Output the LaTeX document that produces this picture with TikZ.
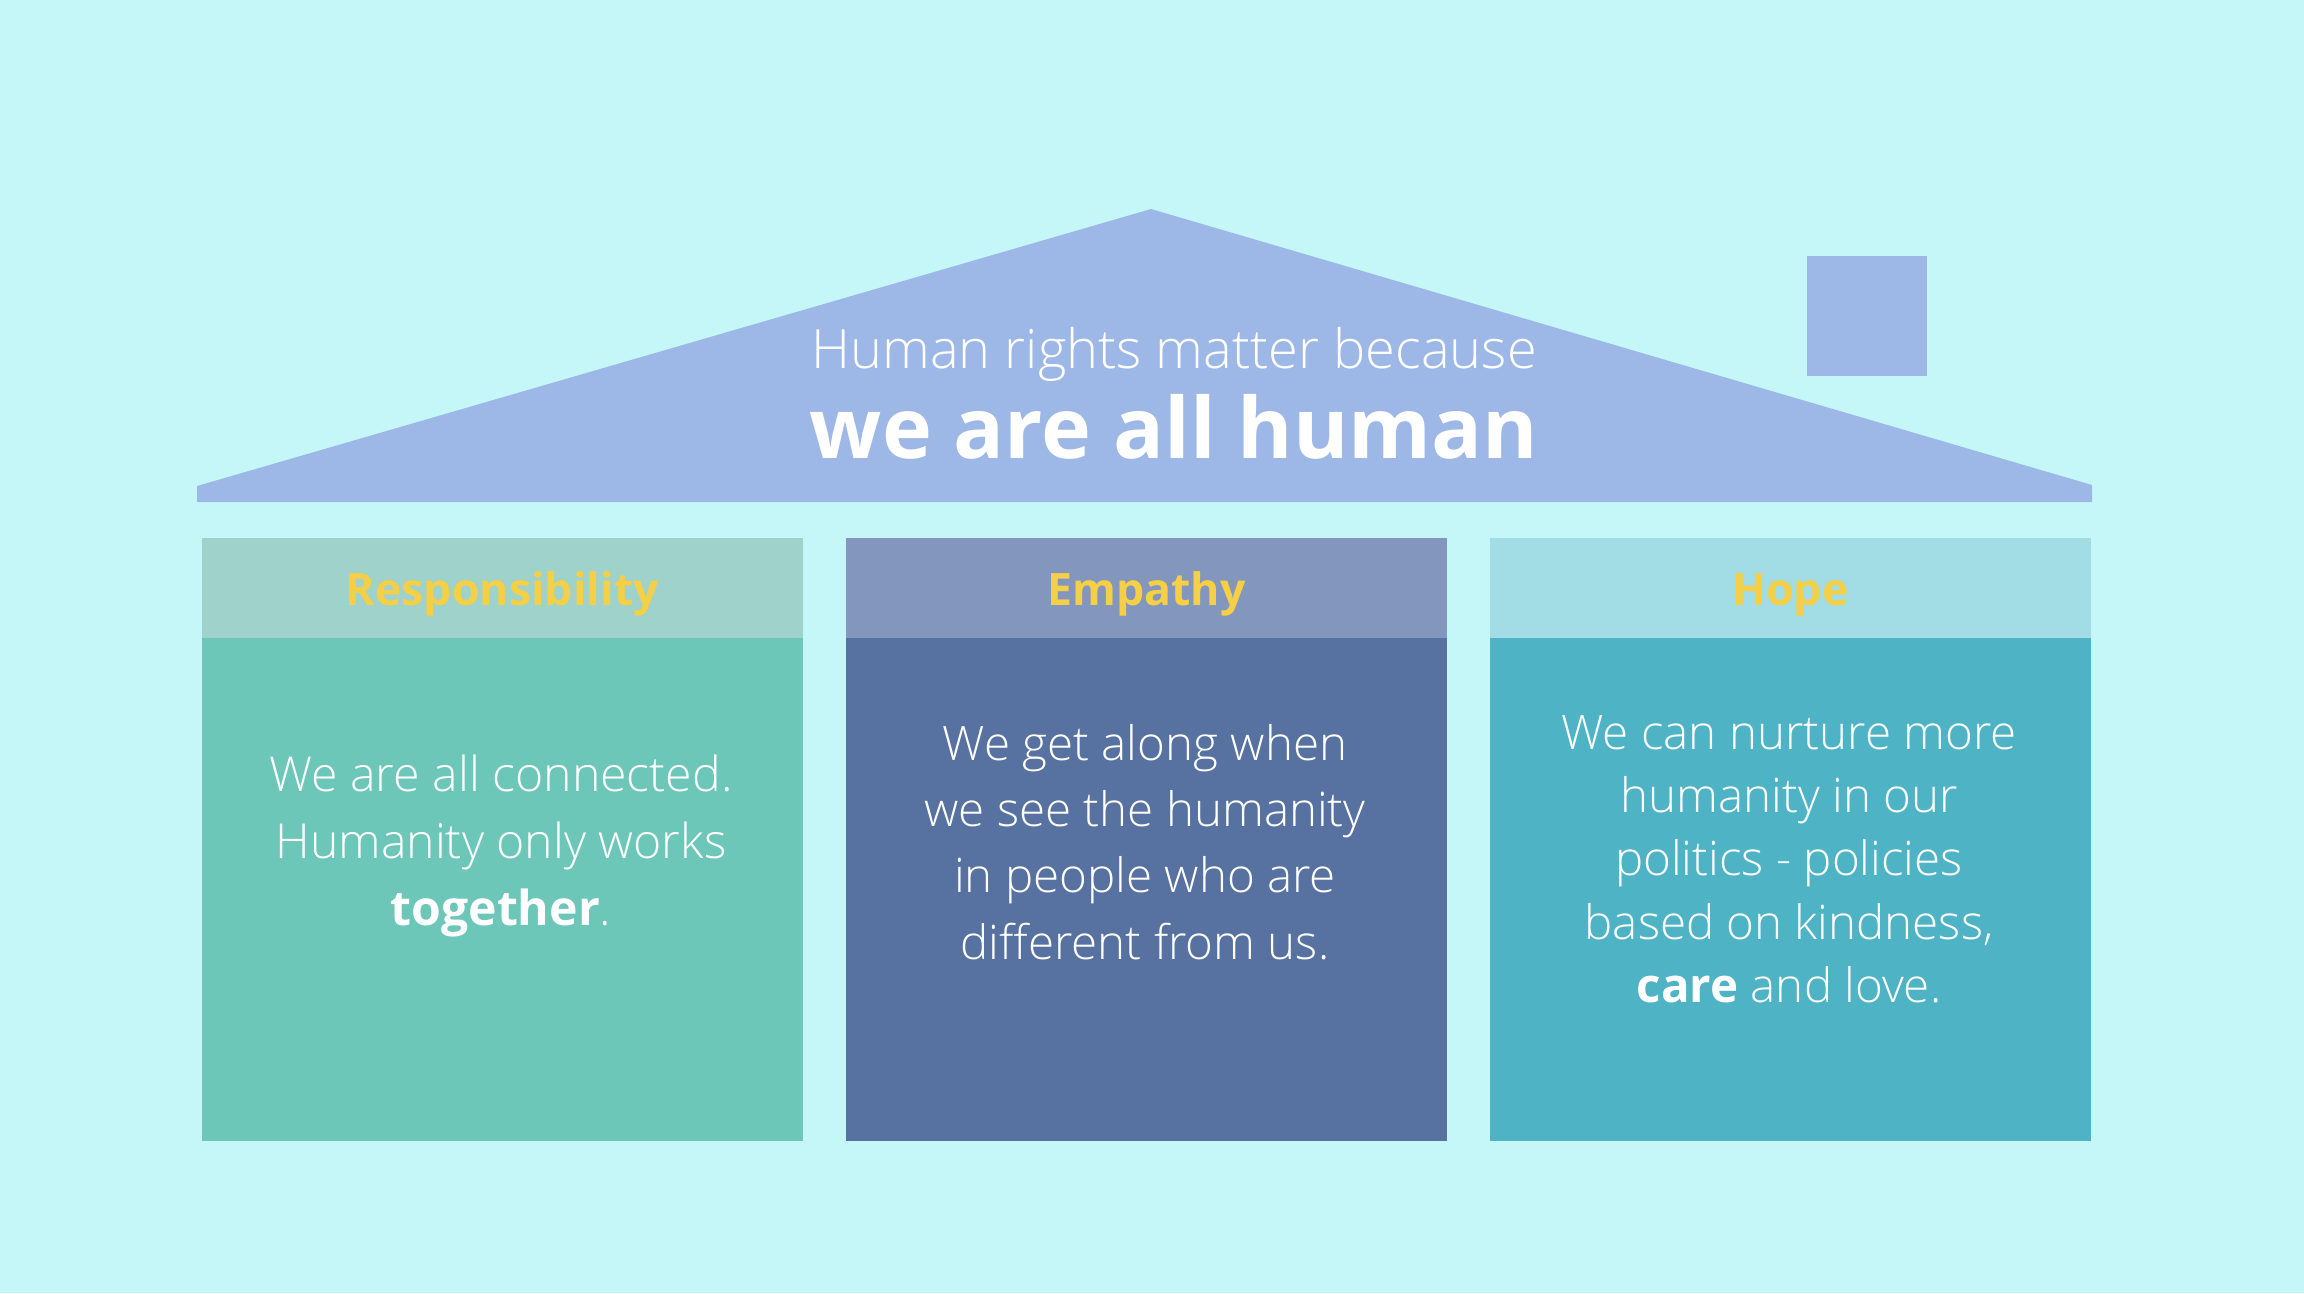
\documentclass[tikz,border=0pt]{standalone}
\usepackage{fontspec}
\setmainfont{Open Sans}
\newfontfamily\lightfont{Open Sans Light}
\usepackage{xcolor}
\usetikzlibrary{positioning}
\definecolor{skybg}{HTML}{C5F7F9}
\definecolor{roofblue}{HTML}{9DB8E6}
\definecolor{resphead}{HTML}{9ED2CB}
\definecolor{respbody}{HTML}{6CC7B9}
\definecolor{emphead}{HTML}{8396BD}
\definecolor{empbody}{HTML}{5771A0}
\definecolor{hopehead}{HTML}{A2DCE4}
\definecolor{hopebody}{HTML}{4FB3C6}
\definecolor{gold}{HTML}{F5CF45}

\begin{document}
\begin{tikzpicture}[x=0.01cm,y=-0.01cm,
pillar/.style={inner sep=0pt,minimum width=6.01cm,minimum height=5.03cm,anchor=north west},
headband/.style={inner sep=0pt,minimum width=6.01cm,minimum height=1cm,text height=12pt,text depth=2.3pt,text=gold,font=\bfseries\fontsize{12.7}{15}\selectfont},
txt/.style={text=white,align=center,font=\lightfont\fontsize{13.5}{18.8}\selectfont},
node distance=-0.02cm]
\useasboundingbox[fill=skybg] (0,0) rectangle (2304,1293);
% roof and chimney
\fill[roofblue] (197,502) -- (197,486) -- (1151,209) -- (2092,485) -- (2092,502) -- cycle;
\fill[roofblue] (1807,256) rectangle (1927,376);
\node[text=white,font=\lightfont\fontsize{15.4}{19}\selectfont] (why) at (1174,354) {Human rights matter because};
\node[text=white,font=\bfseries\fontsize{24}{28}\selectfont] (all) at (1174,427) {we are all human};
% pillars
\node[pillar,fill=respbody] (b1) at (201,637) {};
\node[pillar,fill=empbody] (b2) at (845,637) {};
\node[pillar,fill=hopebody] (b3) at (1489,637) {};
\node[headband,fill=resphead,above=of b1] (h1) {Responsibility};
\node[headband,fill=emphead,above=of b2] (h2) {Empathy};
\node[headband,fill=hopehead,above=of b3] (h3) {Hope};
\node[txt,font=\lightfont\fontsize{13.7}{19}\selectfont] (t1) at (501,846) {We are all connected.\\Humanity only works\\{\normalfont\bfseries together}.};
\node[txt] (t2) at (1145,842) {We get along when\\we see the humanity\\in people who are\\different from us.};
\node[txt,font=\lightfont\fontsize{13.5}{18}\selectfont] (t3) at (1789,859) {We can nurture more\\humanity in our\\politics - policies\\based on kindness,\\{\normalfont\bfseries care} and love.};
\end{tikzpicture}
\end{document}
